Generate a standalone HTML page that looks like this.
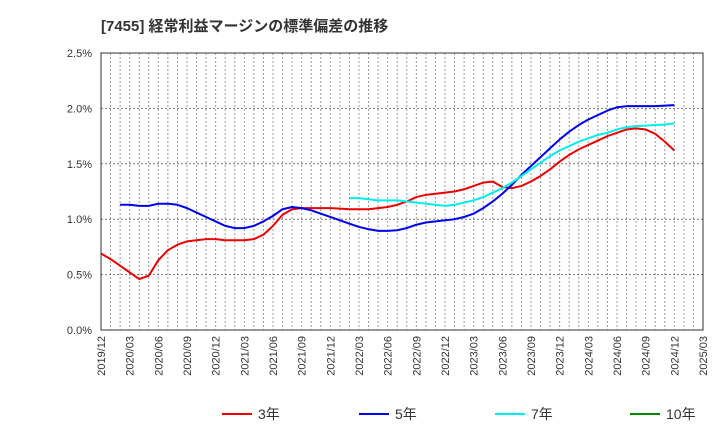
<!DOCTYPE html>
<html><head><meta charset="utf-8"><style>
body{margin:0;background:#fff;font-family:"Liberation Sans","Noto Sans CJK JP",sans-serif;}
</style></head><body>
<svg id="c" width="720" height="440" xmlns="http://www.w3.org/2000/svg">
<text x="101" y="31" font-size="15" font-weight="bold" fill="#333" font-family="Liberation Sans, Noto Sans CJK JP, sans-serif">[7455]  経常利益マージンの標準偏差の推移</text>
</svg>
<script>
const months0 = "2019/12";
const xTicks = ["2019/12","2020/03","2020/06","2020/09","2020/12","2021/03","2021/06","2021/09","2021/12","2022/03","2022/06","2022/09","2022/12","2023/03","2023/06","2023/09","2023/12","2024/03","2024/06","2024/09","2024/12","2025/03"];
const yTicks = [0,0.5,1.0,1.5,2.0,2.5];
const s3Start = 0;
const s3 = [0.69,0.64,0.58,0.52,0.46,0.49,0.63,0.72,0.77,0.80,0.81,0.82,0.82,0.81,0.81,0.81,0.82,0.86,0.94,1.04,1.09,1.10,1.10,1.10,1.10,1.095,1.09,1.09,1.09,1.10,1.11,1.13,1.16,1.20,1.22,1.23,1.24,1.25,1.27,1.30,1.33,1.34,1.29,1.28,1.30,1.34,1.39,1.45,1.52,1.58,1.63,1.67,1.71,1.75,1.78,1.81,1.82,1.81,1.77,1.70,1.62];
const s5Start = 2;
const s5 = [1.13,1.13,1.12,1.12,1.14,1.14,1.13,1.10,1.06,1.02,0.98,0.94,0.92,0.92,0.94,0.98,1.03,1.09,1.11,1.10,1.08,1.05,1.02,0.99,0.96,0.93,0.91,0.895,0.895,0.90,0.92,0.95,0.97,0.98,0.99,1.00,1.02,1.05,1.10,1.16,1.23,1.31,1.40,1.48,1.56,1.64,1.72,1.79,1.85,1.90,1.94,1.98,2.01,2.02,2.02,2.02,2.02,2.025,2.03];
const s7Start = 26;
const s7 = [1.19,1.19,1.18,1.17,1.17,1.17,1.16,1.15,1.14,1.13,1.12,1.13,1.15,1.17,1.20,1.24,1.28,1.33,1.39,1.45,1.51,1.57,1.62,1.66,1.70,1.73,1.76,1.78,1.81,1.83,1.84,1.845,1.85,1.855,1.865];
const s10 = [];
const L=101,R=703,T=53,B=330,NM=63;
const X=m=>L+(R-L)*m/NM;
const Y=v=>B-(B-T)*v/2.5;
const svg=document.getElementById('c');
const NS="http://www.w3.org/2000/svg";
function mk(t,a,p){const e=document.createElementNS(NS,t);for(const k in a)e.setAttribute(k,a[k]);(p||svg).appendChild(e);return e;}
for(let m=1;m<NM;m++){const g=mk('line',{x1:X(m),x2:X(m),y1:T,y2:B,stroke:'#999','stroke-dasharray':'2,2','stroke-width':1});

}
yTicks.forEach(v=>{if(v>0&&v<2.5){const g=mk('line',{x1:L,x2:R,y1:Y(v),y2:Y(v),stroke:'#777','stroke-dasharray':'2,2'});

}
const t=mk('text',{x:92,y:Y(v)+4,'font-size':11,'text-anchor':'end',fill:'#333'});t.textContent=v.toFixed(1)+'%';

});
const fr=mk('rect',{x:L,y:T,width:R-L,height:B-T,fill:'none',stroke:'#333','stroke-width':1});


xTicks.forEach((s,i)=>{const x=X(i*3);const t=mk('text',{x:0,y:0,'font-size':11,'text-anchor':'end',fill:'#333',transform:`translate(${x+4},${B+6}) rotate(-90)`});t.textContent=s;

});
function line(d,st,c,n){const p=mk('polyline',{points:d.map((v,i)=>X(st+i)+','+Y(v)).join(' '),fill:'none',stroke:c,'stroke-width':2,'stroke-linejoin':'round'});

}
line(s3,s3Start,'#e00','series-3y');
line(s5,s5Start,'#00e','series-5y');
line(s7,s7Start,'#0ee','series-7y');
const leg=[['3年','#e00',222],['5年','#00e',359],['7年','#0ee',495],['10年','#080',630]];
leg.forEach(([n,c,x])=>{const g=mk('g',{});


mk('line',{x1:x,x2:x+30,y1:414,y2:414,stroke:c,'stroke-width':2},g);
const t=mk('text',{x:x+36,y:419,'font-size':14,fill:'#333'},g);t.textContent=n;});
</script>
</body></html>
